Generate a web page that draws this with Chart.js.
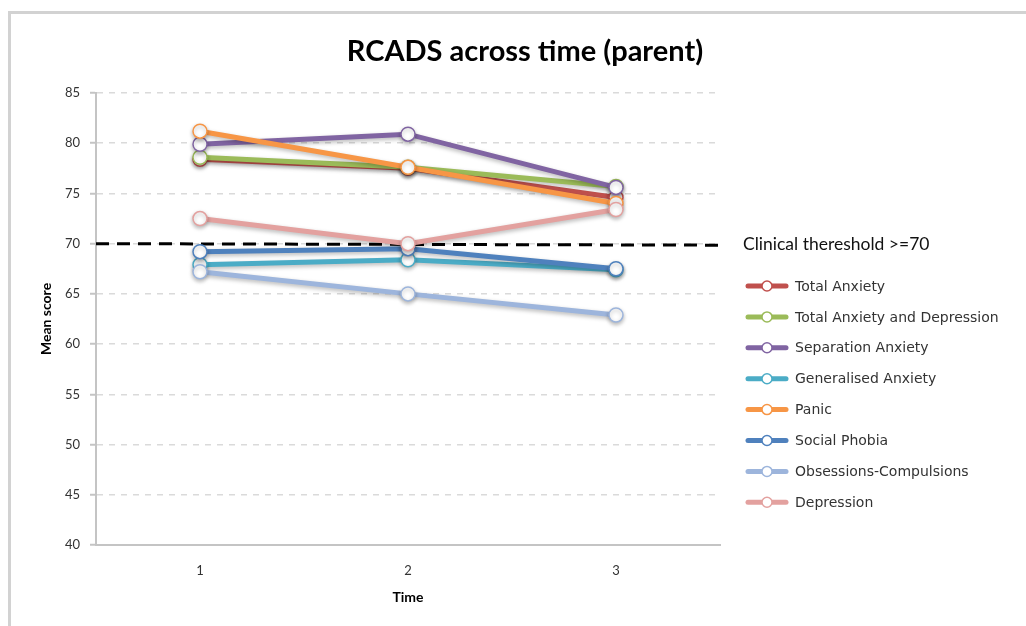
<!DOCTYPE html>
<html>
<head>
<meta charset="utf-8">
<script src="https://cdn.jsdelivr.net/npm/chart.js@4.4.1/dist/chart.umd.min.js"></script>
<style>
  html, body { margin: 0; padding: 0; background: #fff; }
  #wrap { position: relative; width: 1026px; height: 626px; overflow: hidden; }
  #frame { position: absolute; left: 8px; top: 11px; width: 1030px; height: 640px;
           border-top: 3px solid #d2d2d2; border-left: 3px solid #d2d2d2; }
  canvas { position: absolute; left: 0; top: 0; }
</style>
</head>
<body>
<div id="wrap">
  <div id="frame"></div>
  <canvas id="c" width="1026" height="626"></canvas>
</div>
<script>
// ---- data ----
const chartTitle = 'RCADS across time (parent)';
const timeLabels = ['1', '2', '3'];
const seriesNames = ['Total Anxiety', 'Total Anxiety and Depression', 'Separation Anxiety',
  'Generalised Anxiety', 'Panic', 'Social Phobia', 'Obsessions-Compulsions', 'Depression'];
const totalAnxiety = [78.4, 77.5, 74.6];
const totalAnxietyDepression = [78.6, 77.6, 75.7];
const separationAnxiety = [79.9, 80.9, 75.6];
const generalisedAnxiety = [67.9, 68.4, 67.4];
const panic = [81.2, 77.6, 74.0];
const socialPhobia = [69.2, 69.5, 67.5];
const obsessionsCompulsions = [67.2, 65.0, 62.9];
const depression = [72.5, 70.0, 73.4];
const clinicalThreshold = 70;
const thresholdLabel = 'Clinical thereshold >=70';
const yTicks = { min: 40, max: 85, step: 5 };

const seriesValues = [totalAnxiety, totalAnxietyDepression, separationAnxiety, generalisedAnxiety,
  panic, socialPhobia, obsessionsCompulsions, depression];
const seriesColors = ['#C0504D', '#9BBB59', '#8064A2', '#4BACC6', '#F79646', '#4F81BD', '#9DB5DC', '#E3A19F'];

const FONT = 'Lato, "Open Sans", sans-serif';
const LEGEND_FONT = '"DejaVu Sans", Verdana, sans-serif';

const datasets = seriesNames.map((name, i) => ({
  label: name,
  data: seriesValues[i],
  borderColor: seriesColors[i],
  backgroundColor: seriesColors[i],
  borderWidth: 5,
  pointRadius: 7,
  pointHoverRadius: 7,
  pointBackgroundColor: '#ffffff',
  pointBorderColor: seriesColors[i],
  pointBorderWidth: 1.5,
  tension: 0,
  order: seriesNames.length - i
}));

const titlePlugin = {
  id: 'centredTitle',
  afterDraw(chart) {
    const ctx = chart.ctx;
    ctx.save();
    ctx.font = 'bold 29px ' + FONT;
    ctx.fillStyle = '#000';
    ctx.textAlign = 'center';
    ctx.textBaseline = 'middle';
    ctx.fillText(chartTitle, 525, 52);
    ctx.restore();
  }
};

const thresholdPlugin = {
  id: 'threshold',
  beforeDatasetsDraw(chart) {
    const { ctx, chartArea, scales } = chart;
    const y = scales.y.getPixelForValue(clinicalThreshold);
    ctx.save();
    ctx.strokeStyle = '#000';
    ctx.lineWidth = 3;
    ctx.setLineDash([13, 8]);
    ctx.beginPath();
    ctx.moveTo(chartArea.left, y);
    ctx.lineTo(chartArea.right, y + 1.5);
    ctx.stroke();
    ctx.restore();
  }
};

const shadowPlugin = {
  id: 'shadow',
  beforeDatasetDraw(chart) {
    const ctx = chart.ctx;
    ctx.save();
    ctx.shadowColor = 'rgba(0,0,0,0.28)';
    ctx.shadowBlur = 4;
    ctx.shadowOffsetX = 0;
    ctx.shadowOffsetY = 2;
  },
  afterDatasetDraw(chart) {
    chart.ctx.restore();
  }
};

const legendPlugin = {
  id: 'customLegend',
  afterDraw(chart) {
    const { ctx, chartArea, scales } = chart;
    const x0 = chartArea.right + 23;
    ctx.save();
    ctx.textBaseline = 'middle';
    ctx.textAlign = 'left';
    ctx.font = '17.5px ' + FONT;
    ctx.fillStyle = '#111';
    ctx.fillText(thresholdLabel, x0, scales.y.getPixelForValue(clinicalThreshold) + 1);
    ctx.font = '14px ' + LEGEND_FONT;
    chart.data.datasets.forEach((ds, i) => {
      const y = 286 + i * 30.9;
      ctx.strokeStyle = ds.borderColor;
      ctx.lineWidth = 5;
      ctx.lineCap = 'round';
      ctx.beginPath();
      ctx.moveTo(x0 + 5, y);
      ctx.lineTo(x0 + 43, y);
      ctx.stroke();
      ctx.beginPath();
      ctx.arc(x0 + 24, y, 5, 0, Math.PI * 2);
      ctx.fillStyle = '#fff';
      ctx.fill();
      ctx.lineWidth = 1.5;
      ctx.stroke();
      ctx.fillStyle = '#333';
      ctx.fillText(ds.label, x0 + 52, y + 1);
    });
    ctx.restore();
  }
};

new Chart(document.getElementById('c'), {
  type: 'line',
  data: { labels: timeLabels, datasets },
  options: {
    responsive: false,
    devicePixelRatio: 1,
    animation: false,
    events: [],
    layout: { padding: { left: 0, right: 306, top: 93, bottom: 0 } },
    plugins: {
      legend: { display: false },
      tooltip: { enabled: false },
      title: { display: false }
    },
    scales: {
      x: {
        offset: true,
        afterFit(scale) { scale.height = 81; },
        grid: { display: false, drawTicks: false },
        border: { display: true, color: '#c4c4c4', width: 2 },
        ticks: { color: '#333', font: { family: FONT, size: 13 }, padding: 18 },
        title: {
          display: true, text: 'Time', color: '#000',
          font: { family: FONT, size: 14, weight: 'bold' },
          padding: { top: 0, bottom: 20 }
        }
      },
      y: {
        min: yTicks.min,
        max: yTicks.max,
        afterFit(scale) { scale.width = 96; },
        ticks: { stepSize: yTicks.step, color: '#333', font: { family: FONT, size: 13 }, padding: 10 },
        grid: { color: '#dadada', lineWidth: 1.5, tickLength: 6, tickColor: '#c4c4c4', tickWidth: 2 },
        border: { display: true, color: '#c4c4c4', width: 2, dash: [6, 6] },
        title: {
          display: true, text: 'Mean score', color: '#000',
          font: { family: FONT, size: 14, weight: 'bold' },
          padding: { top: 38, bottom: 0 }
        }
      }
    }
  },
  plugins: [thresholdPlugin, shadowPlugin, legendPlugin, titlePlugin]
});
</script>
</body>
</html>
